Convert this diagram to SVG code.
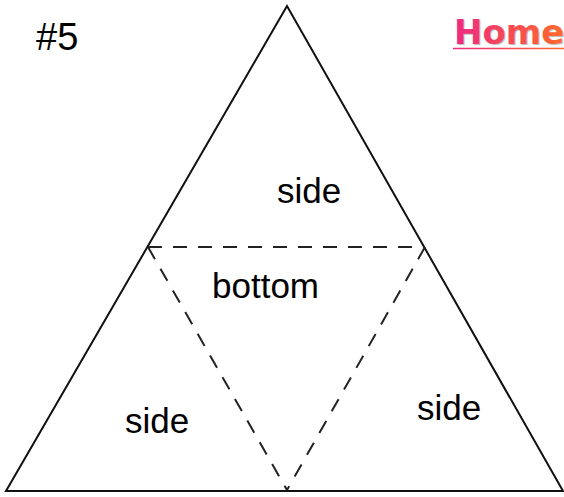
<svg xmlns="http://www.w3.org/2000/svg" width="564" height="497" viewBox="0 0 564 497">
<defs>
<linearGradient id="hg" x1="454" y1="0" x2="564" y2="0" gradientUnits="userSpaceOnUse">
<stop offset="0" stop-color="#ee2a82"/>
<stop offset="1" stop-color="#ff6a2a"/>
</linearGradient>
<style>
.lbl{font-family:"Liberation Sans",Arial,sans-serif;font-size:35px;fill:#000}
.dash{stroke:#222;stroke-width:2;stroke-dasharray:14 11;fill:none}
.edge{stroke:#111;stroke-width:2;fill:none;stroke-linejoin:miter}
</style>
</defs>
<rect width="564" height="497" fill="#fff"/>
<g id="connectors">
<polygon class="edge" points="287,6 6,491 563,491"/>
<line class="dash" x1="148" y1="247" x2="425" y2="247"/>
<line class="dash" x1="148" y1="247" x2="287" y2="490"/>
<line class="dash" x1="425" y1="247" x2="287" y2="490"/>
</g>
<g id="side-top"><text class="lbl" x="277" y="203">side</text></g>
<g id="bottom"><text class="lbl" x="212" y="298">bottom</text></g>
<g id="side-left"><text class="lbl" x="125" y="433">side</text></g>
<g id="side-right"><text class="lbl" x="417" y="420">side</text></g>
<g id="label-num"><text x="36" y="50" style="font-family:'Liberation Sans',Arial,sans-serif;font-size:38px;fill:#000">#5</text></g>
<g id="home">
<text x="455" y="45" style="font-family:'DejaVu Sans',Verdana,sans-serif;font-weight:bold;font-size:34px;fill:#000;opacity:0.25">Home</text>
<text x="454" y="44" style="font-family:'DejaVu Sans',Verdana,sans-serif;font-weight:bold;font-size:34px" fill="url(#hg)">Home</text>
<line x1="453" y1="48.5" x2="564" y2="48.5" stroke="url(#hg)" stroke-width="1.5"/>
</g>
</svg>
